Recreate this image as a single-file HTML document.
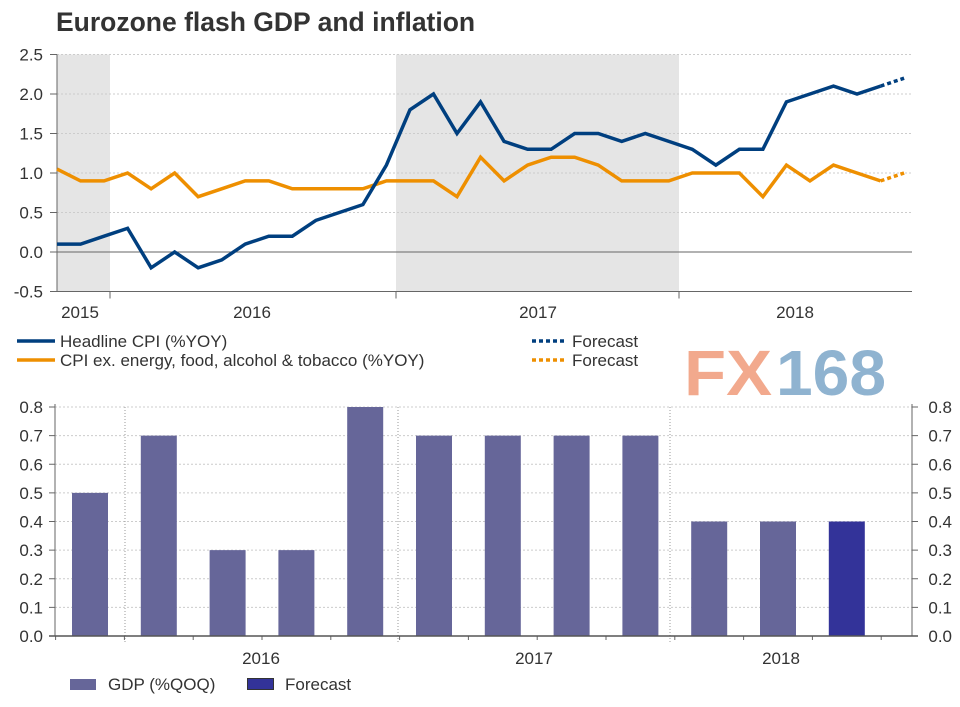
<!DOCTYPE html>
<html><head><meta charset="utf-8"><style>
body{margin:0;background:#fff;width:960px;height:702px;overflow:hidden;font-family:"Liberation Sans",sans-serif;}
svg text{font-family:"Liberation Sans",sans-serif;}
</style></head><body>
<svg id="c" width="960" height="702">
<text x="56" y="31" font-size="26.5" font-weight="bold" fill="#333">Eurozone flash GDP and inflation</text>
<g id="topg"></g>
<g id="bot"></g>
<g>
<line x1="17" y1="341" x2="55" y2="341" stroke="#003f7f" stroke-width="3.5"/>
<text x="60" y="347" font-size="17" fill="#333">Headline CPI (%YOY)</text>
<line x1="17" y1="360" x2="55" y2="360" stroke="#ee8f00" stroke-width="3.5"/>
<text x="60" y="366" font-size="17" fill="#333">CPI ex. energy, food, alcohol &amp; tobacco (%YOY)</text>
<line x1="532" y1="341" x2="566" y2="341" stroke="#003f7f" stroke-width="3.5" stroke-dasharray="4,3"/>
<text x="572" y="347" font-size="17" fill="#333">Forecast</text>
<line x1="532" y1="360" x2="566" y2="360" stroke="#ee8f00" stroke-width="3.5" stroke-dasharray="4,3"/>
<text x="572" y="366" font-size="17" fill="#333">Forecast</text>
</g>
<g>
<text x="684" y="395" font-size="64" font-weight="bold" fill="#f2a98d" textLength="88" lengthAdjust="spacingAndGlyphs">FX</text>
<text x="776" y="395" font-size="64" font-weight="bold" fill="#8fb3d0" textLength="110" lengthAdjust="spacingAndGlyphs">168</text>
</g>
<g>
<rect x="70" y="679" width="26" height="11" fill="#666699"/>
<text x="108" y="690" font-size="17" fill="#333">GDP (%QOQ)</text>
<rect x="247.5" y="678.5" width="26" height="11" fill="#333399" stroke="#333" stroke-width="1"/>
<text x="285" y="690" font-size="17" fill="#333">Forecast</text>
</g>
</svg>
<script>
const cpiHeadline=[0.1,0.1,0.2,0.3,-0.2,0.0,-0.2,-0.1,0.1,0.2,0.2,0.4,0.5,0.6,1.1,1.8,2.0,1.5,1.9,1.4,1.3,1.3,1.5,1.5,1.4,1.5,1.4,1.3,1.1,1.3,1.3,1.9,2.0,2.1,2.0,2.1];
const cpiHeadlineForecast=[2.2];
const cpiCore=[1.05,0.9,0.9,1.0,0.8,1.0,0.7,0.8,0.9,0.9,0.8,0.8,0.8,0.8,0.9,0.9,0.9,0.7,1.2,0.9,1.1,1.2,1.2,1.1,0.9,0.9,0.9,1.0,1.0,1.0,0.7,1.1,0.9,1.1,1.0,0.9];
const cpiCoreForecast=[1.0];
const topTicks=[-0.5,0.0,0.5,1.0,1.5,2.0,2.5];
const topYears=["2015","2016","2017","2018"];
const gdpQuarters=["Q3 15","Q4 15","Q1 16","Q2 16","Q3 16","Q4 16","Q1 17","Q2 17","Q3 17","Q4 17","Q1 18","Q2 18"];
const gdpValues=[0.5,0.7,0.3,0.3,0.8,0.7,0.7,0.7,0.7,0.4,0.4];
const gdpForecast=[0.4];
const botTicks=[0,0.1,0.2,0.3,0.4,0.5,0.6,0.7,0.8];
const botYears=["2016","2017","2018"];

const NS="http://www.w3.org/2000/svg";
function mk(p,t,a){const e=document.createElementNS(NS,t);for(const k in a)e.setAttribute(k,a[k]);p.appendChild(e);return e;}
const topG=document.getElementById('topg');
const tx=i=>57+i*23.53, ty=v=>252-v*79;
const tTop=ty(2.5), tBot=ty(-0.5);
let r=mk(topG,'rect',{x:57,y:tTop,width:53,height:tBot-tTop,fill:'#e5e5e5'});


r=mk(topG,'rect',{x:396,y:tTop,width:283,height:tBot-tTop,fill:'#e5e5e5'});


topTicks.forEach(v=>{
  if(v!==-0.5){const l=mk(topG,'line',{x1:57,x2:912,y1:ty(v),y2:ty(v),stroke:v===0?'#666':'#ccc','stroke-width':1,'stroke-dasharray':v===0?'none':'2,2'});
  
  }
  const t=mk(topG,'text',{x:43,y:ty(v)+6,'font-size':17,fill:'#333','text-anchor':'end'});t.textContent=v.toFixed(1);
  
  
  mk(topG,'line',{x1:50,x2:57,y1:ty(v),y2:ty(v),stroke:'#666'});
});
mk(topG,'line',{x1:57,x2:57,y1:tTop,y2:tBot,stroke:'#666'});
mk(topG,'line',{x1:50,x2:912,y1:tBot,y2:tBot,stroke:'#666'});
[110,396,679].forEach(x=>mk(topG,'line',{x1:x,x2:x,y1:tBot,y2:tBot+7,stroke:'#666'}));
const yx=[80,252,538,795];
topYears.forEach((y,i)=>{const t=mk(topG,'text',{x:yx[i],y:318,'font-size':17,fill:'#333','text-anchor':'middle'});t.textContent=y;

});
function line(arr,fc,col,name){
  const pts=arr.map((v,i)=>tx(i)+','+ty(v)).join(' ');
  const p=mk(topG,'polyline',{points:pts,fill:'none',stroke:col,'stroke-width':3.5});
  
  
  const n=arr.length-1;
  const f=mk(topG,'polyline',{points:tx(n)+','+ty(arr[n])+' '+fc.map((v,i)=>tx(n+1+i)+','+ty(v)).join(' '),fill:'none',stroke:col,'stroke-width':3.5,'stroke-dasharray':'4,3'});
  
  
}
line(cpiCore,cpiCoreForecast,'#ee8f00','core-cpi-line');
line(cpiHeadline,cpiHeadlineForecast,'#003f7f','headline-cpi-line');
const bot=document.getElementById('bot');
const bx=i=>90+i*68.8, by=v=>636-v*286.25;
botTicks.forEach(v=>{
  if(v>0){const l=mk(bot,'line',{x1:55,x2:912,y1:by(v),y2:by(v),stroke:'#ccc','stroke-dasharray':'2,2'});
  
  }
  let t=mk(bot,'text',{x:43,y:by(v)+6,'font-size':17,fill:'#333','text-anchor':'end'});t.textContent=v.toFixed(1);
  
  
  t=mk(bot,'text',{x:952,y:by(v)+6,'font-size':17,fill:'#333','text-anchor':'end'});t.textContent=v.toFixed(1);
  
  
  mk(bot,'line',{x1:49,x2:55,y1:by(v),y2:by(v),stroke:'#666'});
  mk(bot,'line',{x1:912,x2:918,y1:by(v),y2:by(v),stroke:'#666'});
});
[125,398,670].forEach(x=>mk(bot,'line',{x1:x,x2:x,y1:by(0.8),y2:642,stroke:'#999','stroke-dasharray':'1,2'}));
for(let k=0;k<13;k++){const x=55.6+k*68.8;mk(bot,'line',{x1:x,x2:x,y1:636,y2:640,stroke:'#666'});}
gdpValues.concat(gdpForecast).forEach((v,i)=>{
  const fc=i>=gdpValues.length;
  const b=mk(bot,'rect',{x:bx(i)-18,y:by(v),width:36,height:by(0)-by(v),fill:fc?'#333399':'#666699'});
  
  
});
mk(bot,'line',{x1:55,x2:55,y1:by(0.8)-3,y2:636,stroke:'#666'});
mk(bot,'line',{x1:912,x2:912,y1:by(0.8)-3,y2:636,stroke:'#666'});
mk(bot,'line',{x1:49,x2:918,y1:636,y2:636,stroke:'#555','stroke-width':1.5});
const bxl=[261,534,781];
botYears.forEach((y,i)=>{const t=mk(bot,'text',{x:bxl[i],y:664,'font-size':17,fill:'#333','text-anchor':'middle'});t.textContent=y;

});
</script>
</body></html>
